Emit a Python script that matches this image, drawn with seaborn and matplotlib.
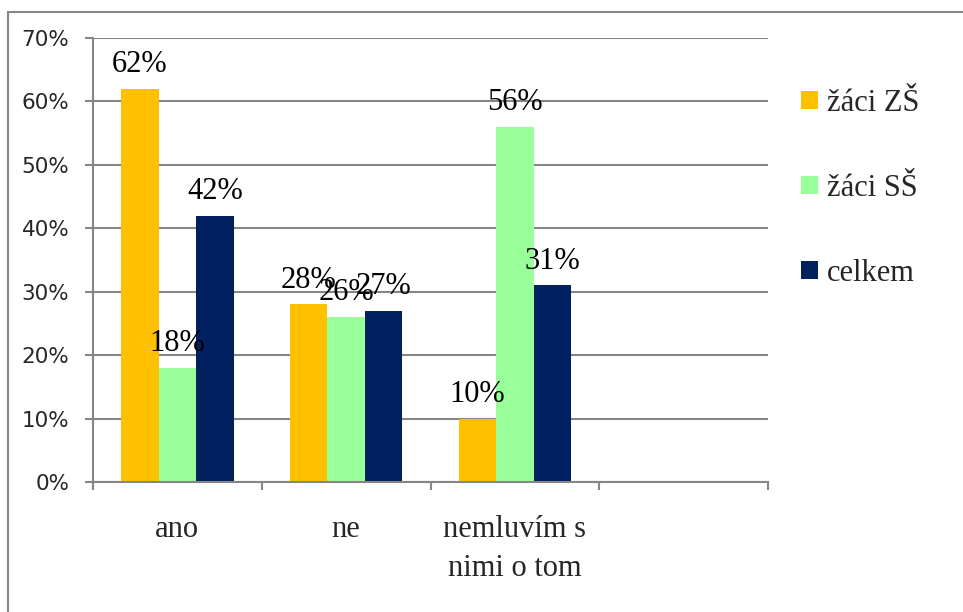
import pandas as pd
import seaborn as sns
import matplotlib.pyplot as plt
from matplotlib.patches import Rectangle
from matplotlib.ticker import FuncFormatter

# data
categories = ["ano", "ne", "nemluvím s\nnimi o tom"]
zaci_zs = [0.62, 0.28, 0.10]
zaci_ss = [0.18, 0.26, 0.56]
celkem = [0.42, 0.27, 0.31]
series = ["žáci ZŠ", "žáci SŠ", "celkem"]
colors = ["#FFC000", "#99FF99", "#002060"]
yticks = [0, 0.1, 0.2, 0.3, 0.4, 0.5, 0.6, 0.7]

rows = []
for name, vals in zip(series, [zaci_zs, zaci_ss, celkem]):
    for cat, v in zip(categories, vals):
        rows.append({"kategorie": cat, "skupina": name, "podil": v})
df = pd.DataFrame(rows)

sns.set_style("white")
grey = "#868686"

fig = plt.figure(figsize=(9.63, 6.12), dpi=100)
ax = fig.add_axes([93 / 963, 1 - 482 / 612, (768 - 93) / 963, (482 - 38) / 612])

sns.barplot(data=df, x="kategorie", y="podil", hue="skupina", order=categories,
            hue_order=series, palette=colors, width=0.667, saturation=1,
            edgecolor="none", linewidth=0, ax=ax)

for cont in ax.containers:
    ax.bar_label(cont, fmt=lambda v: f"{v * 100:.0f}%", padding=7,
                 fontsize=22, family="Liberation Serif", color="black")

ax.set_xlim(-0.5, 3.5)
ax.set_ylim(0, 0.7)
ax.set_yticks(yticks)
ax.yaxis.set_major_formatter(FuncFormatter(lambda v, p: f"{v * 100:.0f}%"))
ax.grid(axis="y", color=grey, linewidth=1.5)
ax.set_axisbelow(True)

ax.set_xticks(range(len(categories)))
ax.set_xticklabels(categories, fontsize=22, family="Liberation Serif", linespacing=1.45)
ax.set_xticks([-0.5, 0.5, 1.5, 2.5, 3.5], minor=True)
ax.tick_params(axis="x", which="major", bottom=True, length=0, pad=24)
ax.tick_params(axis="x", which="minor", bottom=True, length=6, width=1.5,
               color=grey, direction="out")
ax.tick_params(axis="y", left=True, length=6, width=1.5, color=grey, direction="out",
               labelsize=15.5, pad=11)
for lab in ax.get_yticklabels():
    lab.set_family("DejaVu Sans")
ax.set_xlabel("")
ax.set_ylabel("")

for side in ["top", "right"]:
    ax.spines[side].set_visible(False)
for side in ["left", "bottom"]:
    ax.spines[side].set_color(grey)
    ax.spines[side].set_linewidth(1.5)

handles, labels = ax.get_legend_handles_labels()
ax.get_legend().remove()
fig.legend(handles, labels, loc="upper left", bbox_to_anchor=(801 / 963, 1 - 89 / 612),
           frameon=False, prop={"family": "Liberation Serif", "size": 22},
           handlelength=0.55, handleheight=0.55, handletextpad=0.3,
           labelspacing=1.83, borderpad=0, borderaxespad=0)

# outer chart frame (cut off at right and bottom)
fig.patches.append(Rectangle((8 / 963, -0.1), 2, 1.1 - 12 / 612, transform=fig.transFigure,
                             fill=False, edgecolor=grey, linewidth=1.5))

fig.savefig("out.png", dpi=100)
